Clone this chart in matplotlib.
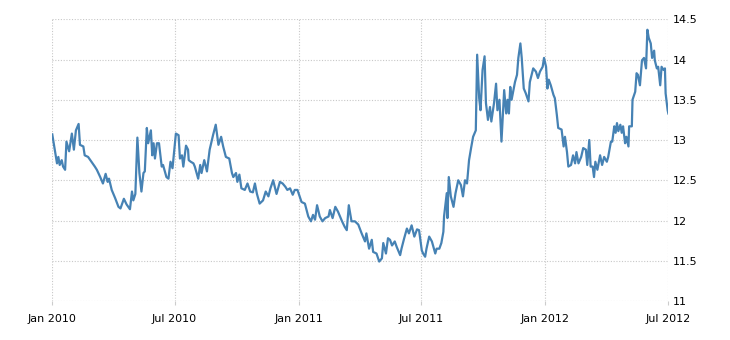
import pandas as pd
import matplotlib
matplotlib.use("Agg")
import matplotlib.pyplot as plt
import matplotlib.dates as mdates

# --- datos ---
START = "2010-01-01"

# dias desde el 1 de enero de 2010
day = [0, 7, 9, 11, 14, 16, 19, 21, 25, 29, 32, 35, 39, 41, 46, 48, 53, 58, 63, 66,
       71, 75, 79, 82, 84, 88, 93, 98, 101, 106, 110, 115, 118, 120, 123, 126, 129, 132, 135, 137,
       140, 142, 146, 148, 150, 152, 155, 158, 162, 164, 169, 172, 175, 178, 183, 187, 189, 192, 194, 198,
       201, 202, 205, 209, 211, 216, 219, 221, 225, 229, 233, 238, 242, 246, 250, 253, 257, 262, 266, 268,
       272, 274, 277, 280, 285, 289, 293, 297, 300, 303, 307, 312, 316, 320, 323, 327, 332, 337, 341, 345,
       348, 352, 356, 359, 363, 369, 374, 379, 383, 386, 389, 392, 396, 400, 404, 409, 411, 415, 419, 423,
       429, 433, 436, 439, 443, 448, 453, 458, 463, 465, 469, 473, 475, 480, 484, 488, 490, 494, 497, 500,
       503, 507, 510, 515, 517, 521, 525, 528, 532, 536, 540, 543, 547, 549, 552, 554, 558, 562, 567, 569,
       573, 576, 579, 580, 584, 585, 587, 590, 594, 597, 601, 605, 608, 611, 614, 617, 620, 623, 627, 629,
       632, 634, 637, 640, 642, 645, 648, 650, 654, 657, 659, 662, 665, 669, 672, 674, 676, 678, 680, 685,
       688, 690, 693, 695, 698, 701, 705, 707, 712, 716, 719, 722, 726, 728, 731, 733, 735, 738, 742, 744,
       747, 749, 754, 757, 759, 762, 764, 768, 771, 774, 776, 779, 783, 786, 790, 792, 795, 797, 800, 802,
       804, 807, 811, 814, 817, 821, 823, 827, 829, 832, 834, 836, 838, 841, 843, 845, 848, 850, 853, 854,
       858, 859, 863, 865, 867, 870, 873, 876, 879, 881, 883, 886, 888, 891, 892, 895, 897, 900, 902, 905,
       907, 908, 911, 912]

valor = [13.07, 12.71, 12.79, 12.69, 12.75, 12.67, 12.63, 12.98, 12.86, 13.08, 12.88, 13.12, 13.20, 12.94, 12.92, 12.81, 12.79, 12.73, 12.67, 12.63,
         12.54, 12.46, 12.58, 12.48, 12.52, 12.38, 12.28, 12.17, 12.15, 12.27, 12.20, 12.14, 12.36, 12.25, 12.33, 13.03, 12.59, 12.36, 12.59, 12.61,
         13.15, 12.96, 13.12, 12.81, 12.96, 12.77, 12.96, 12.96, 12.67, 12.69, 12.54, 12.52, 12.73, 12.65, 13.08, 13.06, 12.77, 12.81, 12.67, 12.93,
         12.88, 12.75, 12.73, 12.71, 12.67, 12.52, 12.69, 12.59, 12.75, 12.61, 12.88, 13.06, 13.19, 12.94, 13.04, 12.92, 12.79, 12.77, 12.59, 12.54,
         12.59, 12.48, 12.57, 12.40, 12.38, 12.46, 12.36, 12.35, 12.46, 12.33, 12.21, 12.25, 12.36, 12.30, 12.40, 12.50, 12.33, 12.48, 12.46, 12.42,
         12.38, 12.40, 12.32, 12.38, 12.38, 12.23, 12.21, 12.05, 11.99, 12.07, 12.01, 12.19, 12.05, 11.99, 12.03, 12.05, 12.13, 12.03, 12.17, 12.11,
         11.99, 11.92, 11.88, 12.19, 11.99, 11.99, 11.95, 11.84, 11.74, 11.84, 11.65, 11.76, 11.61, 11.59, 11.49, 11.53, 11.72, 11.59, 11.78, 11.76,
         11.69, 11.74, 11.67, 11.57, 11.65, 11.78, 11.90, 11.84, 11.94, 11.80, 11.89, 11.88, 11.63, 11.59, 11.55, 11.65, 11.80, 11.74, 11.59, 11.65,
         11.65, 11.72, 11.86, 12.05, 12.34, 12.03, 12.54, 12.30, 12.17, 12.34, 12.50, 12.44, 12.30, 12.50, 12.46, 12.75, 12.90, 13.04, 13.12, 14.06,
         13.52, 13.37, 13.87, 14.04, 13.46, 13.25, 13.41, 13.23, 13.46, 13.70, 13.37, 13.50, 12.98, 13.62, 13.33, 13.50, 13.33, 13.66, 13.50, 13.72,
         13.81, 14.02, 14.20, 14.02, 13.64, 13.58, 13.48, 13.72, 13.89, 13.85, 13.77, 13.85, 13.91, 14.02, 13.91, 13.64, 13.75, 13.68, 13.56, 13.52,
         13.31, 13.15, 13.13, 12.92, 13.04, 12.85, 12.67, 12.69, 12.81, 12.71, 12.85, 12.71, 12.79, 12.90, 12.88, 12.69, 13.00, 12.67, 12.67, 12.54,
         12.73, 12.63, 12.81, 12.69, 12.79, 12.73, 12.79, 12.98, 12.98, 13.17, 13.09, 13.21, 13.11, 13.19, 13.09, 13.17, 12.96, 13.04, 12.92, 13.17,
         13.17, 13.50, 13.60, 13.83, 13.81, 13.68, 13.99, 14.02, 13.89, 14.37, 14.27, 14.20, 14.02, 14.11, 13.99, 13.89, 13.91, 13.68, 13.91, 13.87,
         13.89, 13.58, 13.37, 13.33]

x_ticks = ["2010-01-01", "2010-07-01", "2011-01-01", "2011-07-01", "2012-01-01", "2012-07-01"]
x_labels = ["Jan 2010", "Jul 2010", "Jan 2011", "Jul 2011", "Jan 2012", "Jul 2012"]
y_ticks = [11, 11.5, 12, 12.5, 13, 13.5, 14, 14.5]
y_labels = ["11", "11.5", "12", "12.5", "13", "13.5", "14", "14.5"]

fechas = pd.Timestamp(START) + pd.to_timedelta(day, unit="D")

# --- grafico ---
plt.rcParams["font.family"] = ["DejaVu Sans"]
fig = plt.figure(figsize=(7.3, 3.4), dpi=100)
ax = fig.add_axes([0.0716, 0.1147, 0.8439, 0.8286])

ax.plot(fechas, valor, color="#4682b4", linewidth=1.6, solid_joinstyle="round")

ax.set_xlim(pd.Timestamp(x_ticks[0]), pd.Timestamp(x_ticks[-1]))
ax.set_ylim(11, 14.5)
ax.set_xticks(pd.to_datetime(x_ticks))
ax.set_xticklabels(x_labels)
ax.set_yticks(y_ticks)
ax.set_yticklabels(y_labels)

ax.yaxis.tick_right()
ax.tick_params(axis="y", length=0, pad=3, labelsize=8, colors="#000000")
ax.tick_params(axis="x", length=3, width=0.8, color="#cccccc", pad=6, labelsize=8)
for lab in ax.get_yticklabels():
    lab.set_horizontalalignment("left")

ax.grid(True, color="#c8c8c8", linestyle=(0, (1, 1.5)), linewidth=0.8)
ax.set_axisbelow(True)
for s in ax.spines.values():
    s.set_visible(False)

fig.savefig("out.png", dpi=100)
